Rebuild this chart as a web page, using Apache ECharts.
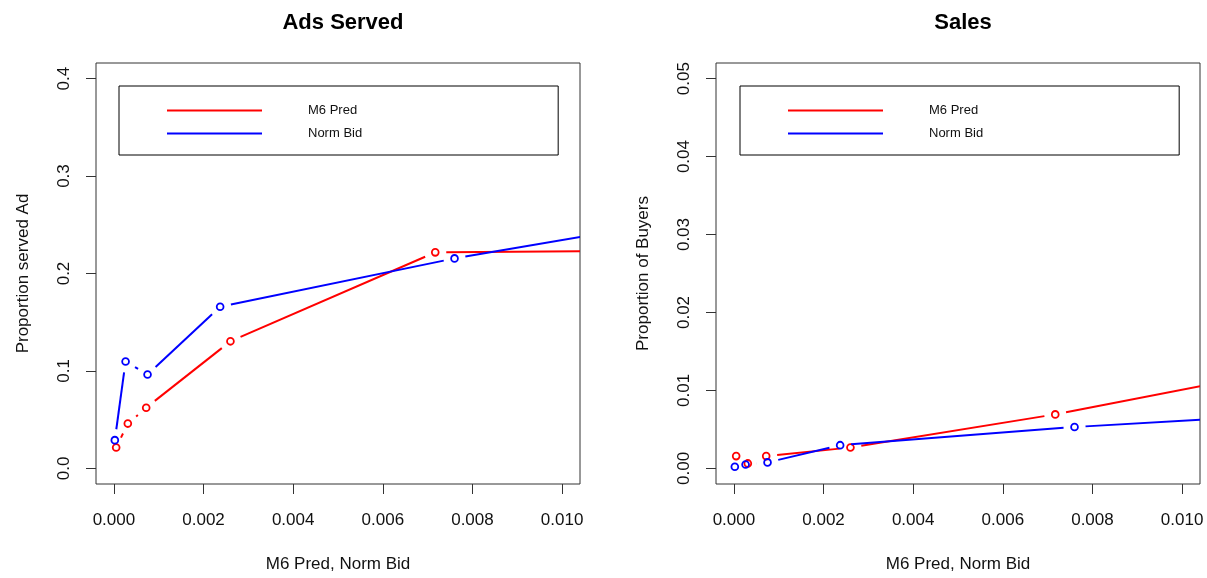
<!DOCTYPE html>
<html>
<head>
<meta charset="utf-8">
<script src="https://cdn.jsdelivr.net/npm/echarts@6/dist/echarts.min.js"></script>
<style>
  html, body { margin: 0; padding: 0; background: #fff; }
  #chart { width: 1207px; height: 578px; }
</style>
</head>
<body>
<div id="chart"></div>
<script>
// ---- data ----
const xTicks = [0, 0.002, 0.004, 0.006, 0.008, 0.010];
const adsYTicks = [0, 0.1, 0.2, 0.3, 0.4];
const salesYTicks = [0, 0.01, 0.02, 0.03, 0.04, 0.05];

const m6PredX  = [0.00005, 0.00031, 0.00072, 0.0026, 0.00717, 0.0128];
const normBidX = [0.00002, 0.00026, 0.00075, 0.00237, 0.0076, 0.0128];

const adsM6Pred  = [0.0215, 0.046, 0.0623, 0.1304, 0.2217, 0.2235];
const adsNormBid = [0.029, 0.1097, 0.0964, 0.1659, 0.2155, 0.2562];

const salesM6Pred  = [0.00158, 0.00064, 0.00158, 0.00268, 0.00693, 0.0132];
const salesNormBid = [0.00022, 0.00051, 0.00077, 0.00298, 0.00531, 0.00704];

const seriesNames = ['M6 Pred', 'Norm Bid'];
const RED = '#ff0000', BLUE = '#0000ff';
const FONT = '"Liberation Sans", Arial, Helvetica, sans-serif';
const INK = '#111';
const BOX = '#333';
const GAP = 11;

function makeRender(xs, ys, color) {
  return function (params, api) {
    const i = params.dataIndex;
    const p = api.coord([api.value(0), api.value(1)]);
    const children = [];
    if (i < xs.length - 1) {
      const q = api.coord([xs[i + 1], ys[i + 1]]);
      const dx = q[0] - p[0], dy = q[1] - p[1];
      const L = Math.hypot(dx, dy);
      if (L > 2 * GAP) {
        const ux = dx / L, uy = dy / L;
        children.push({
          type: 'line',
          shape: { x1: p[0] + ux * GAP, y1: p[1] + uy * GAP, x2: q[0] - ux * GAP, y2: q[1] - uy * GAP },
          style: { stroke: color, lineWidth: 2 }
        });
      }
    }
    children.push({
      type: 'circle',
      shape: { cx: p[0], cy: p[1], r: 3.4 },
      style: { fill: 'none', stroke: color, lineWidth: 1.8 }
    });
    return { type: 'group', children: children };
  };
}

function mkSeries(name, xs, ys, color, idx) {
  return {
    name: name,
    type: 'custom',
    xAxisIndex: idx, yAxisIndex: idx,
    clip: true,
    itemStyle: { color: color },
    encode: { x: 0, y: 1 },
    data: xs.map((x, i) => [x, ys[i]]),
    renderItem: makeRender(xs, ys, color),
    silent: true
  };
}

function mkXAxis(idx) {
  return {
    type: 'value', gridIndex: idx,
    min: -0.0004, max: 0.0104,
    name: 'M6 Pred, Norm Bid', nameLocation: 'middle', nameGap: 72,
    nameTextStyle: { fontFamily: FONT, fontSize: 17, color: INK },
    axisLine: { show: false, onZero: false },
    splitLine: { show: false },
    axisTick: { show: true, customValues: xTicks, length: 10, lineStyle: { color: BOX, width: 1 } },
    axisLabel: { customValues: xTicks, margin: 28, fontFamily: FONT, fontSize: 17, color: INK,
      formatter: v => v.toFixed(3) }
  };
}

function mkYAxis(idx, ticks, max, name, dec) {
  return {
    type: 'value', gridIndex: idx,
    min: -0.04 * max, max: max * 1.04,
    name: name, nameLocation: 'middle', nameGap: 64,
    nameTextStyle: { fontFamily: FONT, fontSize: 17, color: INK },
    axisLine: { show: false, onZero: false },
    splitLine: { show: false },
    axisTick: { show: true, customValues: ticks, length: 10, lineStyle: { color: BOX, width: 1 } },
    axisLabel: { customValues: ticks, rotate: 90, margin: 23, fontFamily: FONT, fontSize: 17, color: INK,
      formatter: v => v.toFixed(dec) }
  };
}

function mkLegend(left) {
  return {
    orient: 'vertical',
    left: left, top: 86,
    padding: [18, 196, 15, 48],
    borderColor: '#000', borderWidth: 1,
    backgroundColor: '#fff',
    itemWidth: 95, itemHeight: 2, itemGap: 10,
    selectedMode: false,
    textStyle: { fontFamily: FONT, fontSize: 13, color: INK, padding: [0, 0, 0, 41] },
    data: [
      { name: seriesNames[0], icon: 'rect', itemStyle: { color: RED } },
      { name: seriesNames[1], icon: 'rect', itemStyle: { color: BLUE } }
    ]
  };
}

const chart = echarts.init(document.getElementById('chart'), null, { renderer: 'canvas' });
chart.setOption({
  animation: false,
  backgroundColor: '#fff',
  title: [
    { text: 'Ads Served', left: 338, top: 7, textAlign: 'center',
      textStyle: { fontFamily: FONT, fontSize: 22, fontWeight: 'bold', color: '#000' } },
    { text: 'Sales', left: 958, top: 7, textAlign: 'center',
      textStyle: { fontFamily: FONT, fontSize: 22, fontWeight: 'bold', color: '#000' } }
  ],
  legend: [mkLegend(119), mkLegend(740)],
  grid: [
    { left: 96, top: 63, width: 484, height: 423, show: true, borderColor: BOX, borderWidth: 1, backgroundColor: 'transparent' },
    { left: 716, top: 63, width: 484, height: 423, show: true, borderColor: BOX, borderWidth: 1, backgroundColor: 'transparent' }
  ],
  xAxis: [mkXAxis(0), mkXAxis(1)],
  yAxis: [
    mkYAxis(0, adsYTicks, 0.4, 'Proportion served Ad', 1),
    mkYAxis(1, salesYTicks, 0.05, 'Proportion of Buyers', 2)
  ],
  series: [
    mkSeries(seriesNames[0], m6PredX, adsM6Pred, RED, 0),
    mkSeries(seriesNames[1], normBidX, adsNormBid, BLUE, 0),
    mkSeries(seriesNames[0], m6PredX, salesM6Pred, RED, 1),
    mkSeries(seriesNames[1], normBidX, salesNormBid, BLUE, 1)
  ]
});
</script>
</body>
</html>
